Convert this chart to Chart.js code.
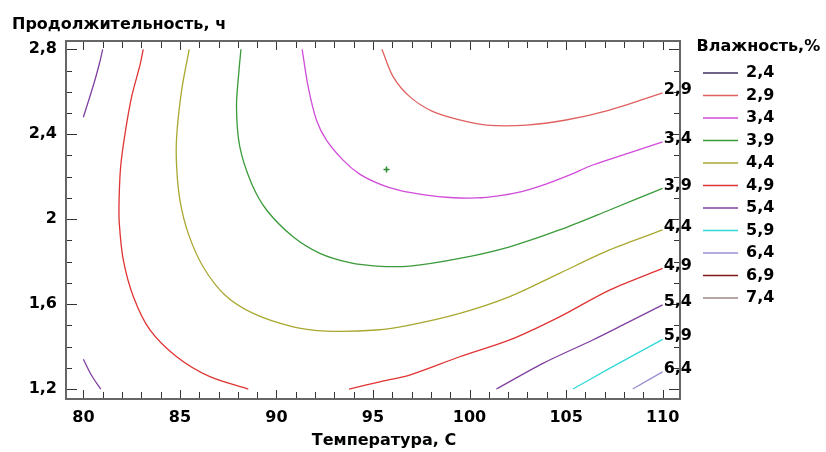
<!DOCTYPE html>
<html lang="ru">
<head>
<meta charset="utf-8">
<title>Влажность</title>
<script src="https://cdn.jsdelivr.net/npm/chart.js@4.4.1/dist/chart.umd.min.js"></script>
<style>
    html, body { margin: 0; padding: 0; background: #fff; }
    #wrap { width: 826px; height: 452px; }
</style>
</head>
<body>
<div id="wrap"><canvas id="contourChart" width="826" height="452"></canvas></div>
<script>
// уровни влажности, %
const levels = ['2,4', '2,9', '3,4', '3,9', '4,4', '4,9', '5,4', '5,9', '6,4', '6,9', '7,4'];
const levelColors = ['#403060', '#e06060', '#d04cd8', '#3a9a3a', '#a8a830', '#e03434',
    '#8040a0', '#30d8d8', '#9a90d0', '#801818', '#a08888'];

// изолинии: [температура, продолжительность], null разделяет ветви
const line24 = [];
const line29 = [[95.46, 2.8], [96.04, 2.671], [96.9, 2.577], [98.11, 2.506], [99.49, 2.467],
    [100.87, 2.443], [102.94, 2.443], [105.0, 2.467], [107.25, 2.514], [110.0, 2.595]];
const line34 = [[91.33, 2.8], [91.64, 2.624], [92.07, 2.467], [92.59, 2.372], [93.45, 2.278],
    [94.31, 2.212], [95.35, 2.165], [96.38, 2.135], [97.77, 2.113], [98.97, 2.102],
    [100.35, 2.1], [101.5, 2.11], [102.7, 2.13], [103.8, 2.16], [105.1, 2.205],
    [106.38, 2.255], [108.2, 2.31], [110.0, 2.364]];
const line39 = [[88.16, 2.8], [88.05, 2.69], [87.93, 2.529], [88.1, 2.341], [88.71, 2.168],
    [89.49, 2.043], [90.86, 1.917], [92.25, 1.839], [93.8, 1.795], [95.18, 1.779],
    [96.9, 1.779], [99.49, 1.815], [102.08, 1.87], [104.66, 1.949], [107.25, 2.043], [110.0, 2.145]];
const line44 = [[85.48, 2.8], [85.09, 2.608], [84.83, 2.388], [84.83, 2.247], [85.0, 2.09],
    [85.43, 1.933], [86.2, 1.776], [87.33, 1.643], [88.8, 1.556], [90.86, 1.493],
    [92.59, 1.473], [95.18, 1.478], [96.9, 1.501], [99.49, 1.556], [102.08, 1.635],
    [104.66, 1.745], [107.25, 1.855], [110.0, 1.949]];
const line49 = [[83.1, 2.8], [82.93, 2.725], [82.5, 2.577], [82.16, 2.404], [81.93, 2.247],
    [81.85, 2.09], [81.86, 1.98], [82.07, 1.807], [82.59, 1.635], [83.45, 1.478],
    [84.83, 1.352], [86.55, 1.258], [88.54, 1.2], null,
    [93.76, 1.2], [95.35, 1.234], [96.9, 1.266], [99.49, 1.352], [102.08, 1.431],
    [104.66, 1.54], [107.25, 1.666], [110.0, 1.768]];
const line54 = [[81.0, 2.8], [80.85, 2.74], [80.55, 2.64], [80.0, 2.48], null,
    [80.0, 1.34], [80.45, 1.26], [80.9, 1.2], null,
    [101.39, 1.2], [103.8, 1.321], [106.38, 1.431], [108.1, 1.509], [110.0, 1.596]];
const line59 = [[105.35, 1.2], [107.25, 1.297], [110.0, 1.434]];
const line64 = [[108.45, 1.2], [110.0, 1.281]];
const line69 = [];
const line74 = [];
const contourLines = [line24, line29, line34, line39, line44, line49, line54, line59, line64, line69, line74];

// точка минимума
const minPoint = [[95.7, 2.234]];

// подписи осей
const xMajor = [80, 85, 90, 95, 100, 105, 110];
const yMajor = [1.2, 1.6, 2, 2.4, 2.8];
const yMajorLabels = ['1,2', '1,6', '2', '2,4', '2,8'];

const FONT = 'DejaVu Sans';

function toPoints(arr) {
    const out = [];
    arr.forEach((p, i) => {
        if (p) out.push({ x: p[0], y: p[1] });
        else out.push({ x: arr[i - 1][0], y: null });
    });
    return out;
}

function isMajorY(v) {
    return yMajor.some(m => Math.abs(m - v) < 1e-6);
}

const datasets = levels.map((lvl, i) => ({
    label: lvl,
    data: toPoints(contourLines[i]),
    borderColor: levelColors[i],
    backgroundColor: levelColors[i],
    borderWidth: 1.3,
    pointRadius: 0,
    tension: 0.3,
    spanGaps: false,
    fill: false
}));
datasets.push({
    label: 'min',
    data: toPoints(minPoint),
    showLine: false,
    pointStyle: 'cross',
    pointRadius: 3,
    borderColor: '#2a8a2a',
    borderWidth: 1.5
});

const axisDecor = {
    id: 'axisDecor',
    afterLayout(chart) {
        // заголовок легенды шире самой легенды — расширяем её до края
        const lg = chart.legend;
        if (lg) {
            lg.right = chart.width;
            lg.width = lg.right - lg.left;
        }
    },
    afterDraw(chart) {
        const { ctx, chartArea: a, scales: { x, y } } = chart;
        ctx.save();
        // засечки со всех сторон
        ctx.strokeStyle = '#333';
        ctx.lineWidth = 1;
        ctx.beginPath();
        x.ticks.forEach(t => {
            const px = Math.round(x.getPixelForValue(t.value)) + 0.5;
            const len = xMajor.includes(t.value) ? 9 : 7;
            ctx.moveTo(px, a.bottom); ctx.lineTo(px, a.bottom - len);
            ctx.moveTo(px, a.top); ctx.lineTo(px, a.top + len);
        });
        y.ticks.forEach(t => {
            const py = Math.round(y.getPixelForValue(t.value)) + 0.5;
            const len = isMajorY(t.value) ? 11 : 6;
            ctx.moveTo(a.left, py); ctx.lineTo(a.left + len, py);
            ctx.moveTo(a.right, py); ctx.lineTo(a.right - len, py);
        });
        ctx.stroke();
        // рамка
        ctx.strokeStyle = '#666';
        ctx.lineWidth = 2;
        ctx.strokeRect(a.left, a.top, a.right - a.left, a.bottom - a.top);

        // подписи изолиний у правого края
        ctx.fillStyle = '#000';
        ctx.font = 'bold 16px "' + FONT + '"';
        ctx.textAlign = 'left';
        ctx.textBaseline = 'middle';
        levels.forEach((lvl, i) => {
            const pts = contourLines[i];
            if (!pts.length) return;
            const last = pts[pts.length - 1];
            if (last[0] < 109.9) return;
            ctx.fillText(lvl, x.getPixelForValue(last[0]) + 1, y.getPixelForValue(last[1]) - 3);
        });

        // название оси X
        ctx.textAlign = 'center';
        ctx.textBaseline = 'alphabetic';
        ctx.fillText('Температура, С', 384, 445);
        ctx.restore();
    }
};

const chart = new Chart(document.getElementById('contourChart'), {
    type: 'line',
    data: { datasets },
    plugins: [axisDecor],
    options: {
        responsive: false,
        animation: false,
        layout: { padding: { left: 12, right: 41.65, top: 0, bottom: 0 } },
        plugins: {
            tooltip: { enabled: false },
            title: {
                display: true,
                text: 'Продолжительность, ч',
                align: 'start',
                color: '#000',
                font: { family: FONT, size: 16, weight: 'bold' },
                padding: { top: 14.9, bottom: 6.9 }
            },
            legend: {
                position: 'right',
                align: 'start',
                title: {
                    display: true,
                    text: 'Влажность,%',
                    position: 'start',
                    color: '#000',
                    font: { family: FONT, size: 16, weight: 'bold' },
                    padding: { top: 38.5, bottom: 0.8 }
                },
                labels: {
                    boxWidth: 35,
                    boxHeight: 1.5,
                    padding: 6.5,
                    color: '#000',
                    font: { family: FONT, size: 16, weight: 'bold' },
                    filter: item => item.text !== 'min',
                    generateLabels: ch => ch.data.datasets.map((ds, i) => ({
                        text: ds.label,
                        fillStyle: ds.borderColor,
                        strokeStyle: ds.borderColor,
                        lineWidth: 0,
                        hidden: false,
                        datasetIndex: i
                    }))
                }
            }
        },
        scales: {
            x: {
                type: 'linear',
                min: 79.1,
                max: 110.9,
                afterBuildTicks: scale => {
                    const t = [];
                    for (let v = 80; v <= 110; v++) t.push({ value: v });
                    scale.ticks = t;
                },
                afterFit: scale => { scale.height = 53; },
                grid: { display: false, drawTicks: false },
                border: { display: false },
                ticks: {
                    padding: 9,
                    color: '#000',
                    font: { family: FONT, size: 16, weight: 'bold' },
                    maxRotation: 0,
                    autoSkip: false,
                    callback: v => xMajor.includes(v) ? String(v) : ''
                }
            },
            y: {
                type: 'linear',
                min: 1.153,
                max: 2.839,
                afterBuildTicks: scale => {
                    const t = [];
                    for (let k = 12; k <= 28; k++) t.push({ value: k / 10 });
                    scale.ticks = t;
                },
                afterFit: scale => { scale.width = 54; },
                grid: { display: false, drawTicks: false },
                border: { display: false },
                ticks: {
                    padding: 9,
                    color: '#000',
                    font: { family: FONT, size: 16, weight: 'bold' },
                    autoSkip: false,
                    callback: v => {
                        const idx = yMajor.findIndex(m => Math.abs(m - v) < 1e-6);
                        return idx >= 0 ? yMajorLabels[idx] : '';
                    }
                }
            },
            y2: {
                type: 'linear',
                position: 'right',
                min: 1.153,
                max: 2.839,
                afterFit: scale => { scale.width = 16.5; },
                grid: { display: false, drawTicks: false },
                border: { display: false },
                ticks: { display: false }
            }
        }
    }
});
</script>
</body>
</html>
